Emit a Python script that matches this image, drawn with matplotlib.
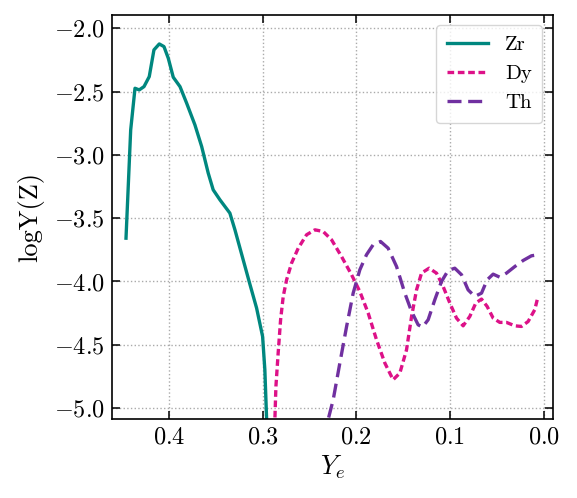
import matplotlib
matplotlib.use("Agg")
import matplotlib.pyplot as plt

plt.rcParams['font.family'] = 'serif'
plt.rcParams['font.serif'] = ['cmr10', 'DejaVu Serif']
plt.rcParams['mathtext.fontset'] = 'cm'
plt.rcParams['axes.formatter.use_mathtext'] = True
plt.rcParams['axes.unicode_minus'] = True

zr_x = [0.4456, 0.4406, 0.436, 0.4315, 0.4264, 0.4208, 0.4158, 0.4101, 0.4051, 0.4005,
        0.3952, 0.388, 0.3809, 0.3721, 0.3649, 0.3579, 0.3526, 0.3454, 0.3348, 0.3294,
        0.3206, 0.3135, 0.3063, 0.2999, 0.2975, 0.2956, 0.295]
zr_y = [-3.658, -2.803, -2.474, -2.487, -2.461, -2.382, -2.171, -2.124, -2.145, -2.237,
        -2.387, -2.461, -2.592, -2.763, -2.934, -3.144, -3.276, -3.355, -3.46, -3.592,
        -3.829, -4.02, -4.21, -4.434, -4.697, -5.09, -5.5]

dy_x = [0.288, 0.2868, 0.2857, 0.2833, 0.2807, 0.2779, 0.2743, 0.269, 0.2619, 0.253,
        0.2441, 0.2353, 0.2263, 0.2157, 0.205, 0.1962, 0.1873, 0.1784, 0.1695, 0.1607,
        0.1535, 0.1464, 0.141, 0.1357, 0.1304, 0.1223, 0.1144, 0.1073, 0.1002, 0.0931,
        0.086, 0.0789, 0.0725, 0.0664, 0.0604, 0.054, 0.0469, 0.0398, 0.0309, 0.0238,
        0.0167, 0.0096, 0.0061]
dy_y = [-5.4, -5.09, -4.829, -4.565, -4.302, -4.118, -3.987, -3.855, -3.737, -3.631,
        -3.592, -3.605, -3.671, -3.803, -3.947, -4.079, -4.249, -4.46, -4.644, -4.776,
        -4.723, -4.54, -4.276, -4.066, -3.934, -3.895, -3.934, -4.04, -4.17, -4.289,
        -4.35, -4.276, -4.17, -4.139, -4.197, -4.289, -4.323, -4.323, -4.35, -4.355,
        -4.316, -4.223, -4.118]

th_x = [0.232, 0.23, 0.2246, 0.2175, 0.2103, 0.2033, 0.1962, 0.1891, 0.182, 0.1741,
        0.166, 0.157, 0.1482, 0.141, 0.134, 0.1293, 0.1233, 0.1162, 0.1091, 0.102,
        0.0949, 0.0877, 0.0807, 0.0736, 0.0664, 0.0604, 0.054, 0.0469, 0.0398, 0.0309,
        0.022, 0.0131, 0.0061]
th_y = [-5.4, -5.09, -4.934, -4.644, -4.355, -4.092, -3.908, -3.789, -3.71, -3.684,
        -3.737, -3.882, -4.092, -4.237, -4.342, -4.36, -4.302, -4.144, -4.0, -3.913,
        -3.895, -3.947, -4.066, -4.118, -4.092, -3.987, -3.942, -3.966, -3.934, -3.882,
        -3.834, -3.797, -3.789]

x_ticks = [0.4, 0.3, 0.2, 0.1, 0.0]
y_ticks = [-2.0, -2.5, -3.0, -3.5, -4.0, -4.5, -5.0]

fig = plt.figure(figsize=(5.77, 4.98), dpi=100)
ax = fig.add_axes([0.194, 0.1586, 0.764, 0.8114])

ax.plot(zr_x, zr_y, color='#00877f', lw=2.4, label='Zr')
ax.plot(dy_x, dy_y, color='#dd1188', lw=2.4, dashes=(2.0, 1.1), label='Dy')
ax.plot(th_x, th_y, color='#7030a0', lw=2.4, dashes=(4.2, 2.0), label='Th')

ax.set_xlim(0.4606, -0.0096)
ax.set_ylim(-5.086, -1.895)
ax.set_xticks(x_ticks)
ax.set_yticks(y_ticks)
ax.set_xticklabels([f"${v:.1f}$" for v in x_ticks])
ax.set_yticklabels([f"${v:.1f}$" for v in y_ticks])
ax.tick_params(direction='in', top=True, right=True, length=6, width=1.1,
               labelsize=17.5, pad=5)
for s in ax.spines.values():
    s.set_linewidth(1.2)
ax.grid(True, linestyle=':', color='#aaaaaa', lw=1.0)

ax.set_xlabel(r'$Y_e$', fontsize=19, labelpad=4)
ax.set_ylabel('logY(Z)', fontsize=19, labelpad=7)

leg = ax.legend(loc='upper right', fontsize=15, frameon=True, fancybox=True,
                handlelength=2.0, borderpad=0.5, labelspacing=0.5)
leg.get_frame().set_edgecolor('#cccccc')

fig.savefig('out.png', dpi=100)
